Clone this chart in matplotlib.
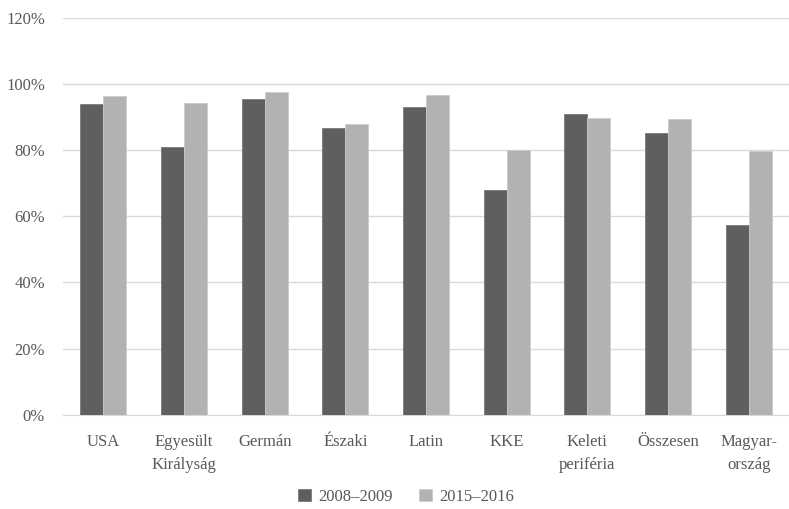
import numpy as np
import matplotlib.pyplot as plt

# data
categories = ['USA', 'Egyesült\nKirályság', 'Germán', 'Északi', 'Latin', 'KKE',
              'Keleti\nperiféria', 'Összesen', 'Magyar-\nország']
share_2008 = [93.9, 81.0, 95.6, 86.7, 93.0, 67.9, 91.0, 85.3, 57.5]
share_2015 = [96.4, 94.4, 97.6, 88.0, 96.7, 79.9, 89.6, 89.3, 79.8]
series_names = ['2008–2009', '2015–2016']

plt.rcParams['font.family'] = ['Liberation Serif', 'DejaVu Serif']
text_col = '#595959'

fig = plt.figure(figsize=(7.89, 5.09), dpi=100)
ax = fig.add_axes([0.08, 0.185, 0.92, 0.78])

x = np.arange(len(categories))
w = 0.285
ax.bar(x - w / 2, share_2008, w, color='#5f5f5f', edgecolor='#7a7a7a', linewidth=0.6,
       label=series_names[0], zorder=3)
ax.bar(x + w / 2, share_2015, w, color='#b2b2b2', edgecolor='#cccccc', linewidth=0.6,
       label=series_names[1], zorder=3)

ax.set_xlim(-0.5, len(categories) - 0.5)
ax.set_ylim(0, 120)
ax.set_yticks(range(0, 121, 20))
ax.set_yticklabels([f'{v}%' for v in range(0, 121, 20)])
ax.set_xticks(x)
ax.set_xticklabels(categories, linespacing=1.55)
ax.grid(axis='y', color='#d9d9d9', linewidth=1, zorder=0)
ax.tick_params(length=0, labelsize=12, colors=text_col)
ax.tick_params(axis='x', pad=14)
ax.tick_params(axis='y', pad=13)
for s in ['top', 'right', 'left']:
    ax.spines[s].set_visible(False)
ax.spines['bottom'].set_color('#d9d9d9')

fig.legend(loc='lower center', ncol=2, frameon=False, fontsize=12,
           bbox_to_anchor=(0.515, -0.022), handlelength=0.75, handleheight=0.75,
           columnspacing=1.6, handletextpad=0.45, labelcolor=text_col)

fig.savefig('out.png', dpi=100)
